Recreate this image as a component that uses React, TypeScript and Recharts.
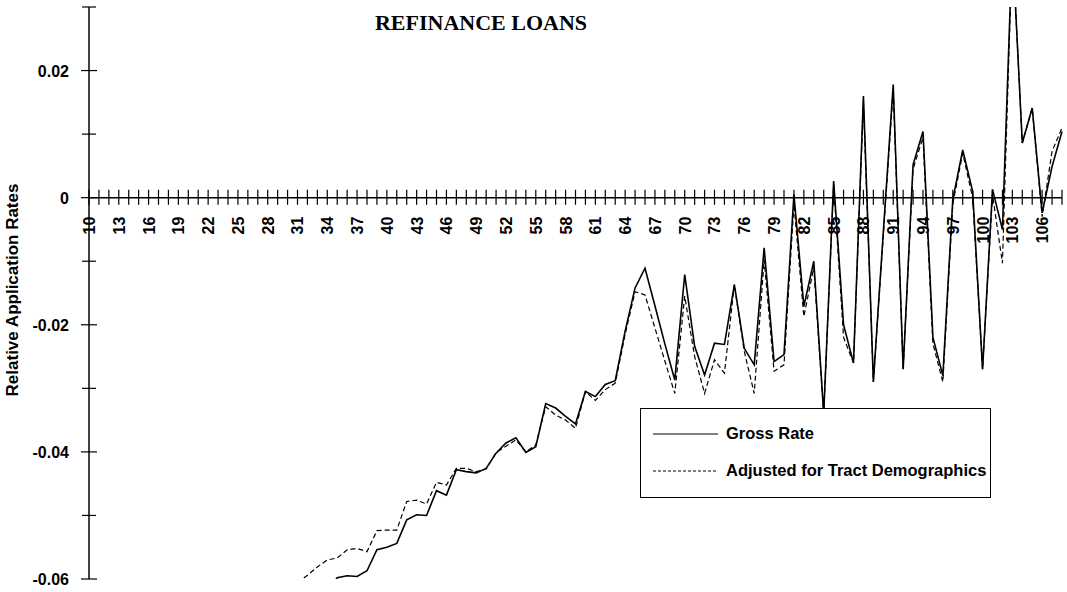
import { ComposedChart, Line, Scatter, XAxis, YAxis, ReferenceLine, Legend } from "recharts";

// ages on the category axis (10..108), labels every third one
const tickAges = Array.from({ length: 99 }, (_, i) => 10 + i);

// ages that carry data
const ages = [
  31, 32, 33, 34, 35, 36, 37, 38, 39, 40, 41, 42, 43, 44, 45, 46, 47, 48, 49, 50,
  51, 52, 53, 54, 55, 56, 57, 58, 59, 60, 61, 62, 63, 64, 65, 66, 67, 68, 69, 70,
  71, 72, 73, 74, 75, 76, 77, 78, 79, 80, 81, 82, 83, 84, 85, 86, 87, 88, 89, 90,
  91, 92, 93, 94, 95, 96, 97, 98, 99, 100, 101, 102, 103, 104, 105, 106, 107, 108,
];

const grossRate = [
  null, null, null, -0.062, -0.0598, -0.0595, -0.0596, -0.0587, -0.0554, -0.055,
  -0.0544, -0.0507, -0.0499, -0.05, -0.0461, -0.0468, -0.0428, -0.0431, -0.0433, -0.0426,
  -0.0402, -0.0386, -0.0378, -0.0401, -0.0392, -0.0324, -0.0331, -0.0344, -0.0356, -0.0305,
  -0.0313, -0.0294, -0.0288, -0.021, -0.0142, -0.0111, -0.017, -0.023, -0.0287, -0.0121,
  -0.0234, -0.0279, -0.0229, -0.0231, -0.0137, -0.0237, -0.0263, -0.0079, -0.0258, -0.0247,
  0.0005, -0.0171, -0.01, -0.034, 0.0026, -0.02, -0.026, 0.016, -0.029, -0.0055,
  0.0178, -0.027, 0.0052, 0.0104, -0.022, -0.028, -0.0003, 0.0075, 0.001, -0.027,
  0.0013, -0.005, 0.04, 0.0086, 0.0141, -0.0024, 0.0049, 0.0104,
];

const adjustedRate = [
  -0.0606, -0.0594, -0.0581, -0.057, -0.0567, -0.0554, -0.0552, -0.0557, -0.0524, -0.0523,
  -0.0523, -0.0478, -0.0476, -0.0482, -0.0448, -0.0452, -0.0426, -0.0426, -0.0431, -0.0427,
  -0.0401, -0.0391, -0.0381, -0.04, -0.0389, -0.0329, -0.0342, -0.035, -0.0363, -0.0305,
  -0.0319, -0.0302, -0.0292, -0.0215, -0.0148, -0.0153, -0.0205, -0.0257, -0.0308, -0.0155,
  -0.025, -0.0308, -0.0255, -0.0276, -0.0137, -0.0242, -0.0308, -0.0098, -0.0273, -0.0263,
  -0.001, -0.0187, -0.011, -0.034, 0.002, -0.022, -0.026, 0.015, -0.029, -0.006,
  0.017, -0.027, 0.0045, 0.0095, -0.023, -0.029, -0.001, 0.007, 0.0, -0.027,
  0.0005, -0.0103, 0.04, 0.0086, 0.0141, -0.003, 0.0073, 0.011,
];

const yTicks = [-0.06, -0.05, -0.04, -0.03, -0.02, -0.01, 0, 0.01, 0.02, 0.03];
const yLabels = ["-0.06", "", "-0.04", "", "-0.02", "", "0", "", "0.02", ""];

const rows = ages.map((age, i) => ({
  age,
  gross: grossRate[i],
  adjusted: adjustedRate[i],
}));

const tickRows = tickAges.map((age) => ({ age, zero: 0 }));

const FONT = "'Liberation Sans', Arial, sans-serif";

// y axis tick: a short line crossing the axis plus the label on the left
const YTick = ({ x, y, index }: any) => {
  const label = yLabels[index];
  const half = label === "" ? 7 : 8;
  return (
    <g>
      <line x1={x - half} x2={x + half} y1={y} y2={y} stroke="#000" strokeWidth={1.2} />
      {label !== "" && (
        <text x={x - 20} y={y} dy={6} textAnchor="end" fontFamily={FONT} fontWeight="bold" fontSize={16} fill="#000">
          {label}
        </text>
      )}
    </g>
  );
};

// category tick on the zero line, with a rotated label every third age
const AgeTick = ({ cx, cy, payload }: any) => {
  const showLabel = (payload.age - 10) % 3 === 0;
  return (
    <g>
      <line x1={cx} x2={cx} y1={cy - 8} y2={cy + 7} stroke="#000" strokeWidth={1.2} />
      {showLabel && (
        <text
          x={cx}
          y={cy + 19}
          dy={6}
          textAnchor="end"
          transform={`rotate(-90, ${cx}, ${cy + 19})`}
          fontFamily={FONT}
          fontWeight="bold"
          fontSize={16}
          fill="#000"
        >
          {payload.age}
        </text>
      )}
    </g>
  );
};

const YTitle = ({ viewBox }: any) => {
  const cx = viewBox.x + 12;
  const cy = viewBox.y + viewBox.height / 2 - 3;
  return (
    <text
      x={cx}
      y={cy}
      textAnchor="middle"
      transform={`rotate(-90, ${cx}, ${cy})`}
      fontFamily={FONT}
      fontWeight="bold"
      fontSize={17}
      fill="#000"
      dominantBaseline="central"
    >
      Relative Application Rates
    </text>
  );
};

const LegendBox = () => (
  <div
    style={{
      width: 349,
      height: 88,
      background: "#fff",
      border: "1.5px solid #000",
      fontFamily: FONT,
      fontWeight: "bold",
      fontSize: 16.5,
      position: "relative",
    }}
  >
    <svg width={80} height={88} style={{ position: "absolute", left: 0, top: 0 }}>
      <line x1={12} x2={77} y1={25} y2={25} stroke="#000" strokeWidth={1.2} />
      <line x1={12} x2={77} y1={62} y2={62} stroke="#000" strokeWidth={1.2} strokeDasharray="3 2" />
    </svg>
    <div style={{ position: "absolute", left: 85, top: 15 }}>Gross Rate</div>
    <div style={{ position: "absolute", left: 85, top: 52 }}>Adjusted for Tract Demographics</div>
  </div>
);

export default function App() {
  return (
    <div style={{ position: "relative", width: 1067, height: 592, background: "#fff" }}>
      <style>{"body{margin:0;background:#fff}"}</style>
      <div
        style={{
          position: "absolute",
          left: 481,
          top: 10,
          transform: "translateX(-50%)",
          whiteSpace: "nowrap",
          fontFamily: "'Liberation Serif', 'Times New Roman', serif",
          fontWeight: "bold",
          fontSize: 22,
          zIndex: 2,
        }}
      >
        REFINANCE LOANS
      </div>
      <ComposedChart width={1067} height={592} data={rows} margin={{ top: 7, right: 5, bottom: 13, left: 0 }}>
        <XAxis dataKey="age" type="number" domain={[10, 108]} hide />
        <YAxis
          type="number"
          domain={[-0.06, 0.03]}
          ticks={yTicks}
          allowDataOverflow
          width={89}
          tickSize={0}
          tickMargin={0}
          tickLine={false}
          axisLine={{ stroke: "#000", strokeWidth: 1.5 }}
          tick={<YTick />}
          interval={0}
          label={<YTitle />}
        />
        <ReferenceLine y={0} stroke="#000" strokeWidth={1.5} />
        <Scatter data={tickRows} dataKey="zero" shape={<AgeTick />} isAnimationActive={false} legendType="none" />
        <Line
          dataKey="gross"
          name="Gross Rate"
          stroke="#000"
          strokeWidth={1.6}
          dot={false}
          isAnimationActive={false}
          type="linear"
        />
        <Line
          dataKey="adjusted"
          name="Adjusted for Tract Demographics"
          stroke="#000"
          strokeWidth={1.2}
          strokeDasharray="5 3"
          dot={false}
          isAnimationActive={false}
          type="linear"
        />
        <Legend
          layout="horizontal"
          verticalAlign="middle"
          align="center"
          content={<LegendBox />}
          wrapperStyle={{ position: "absolute", left: 640, top: 408, width: 352, height: 91 }}
        />
      </ComposedChart>
    </div>
  );
}
